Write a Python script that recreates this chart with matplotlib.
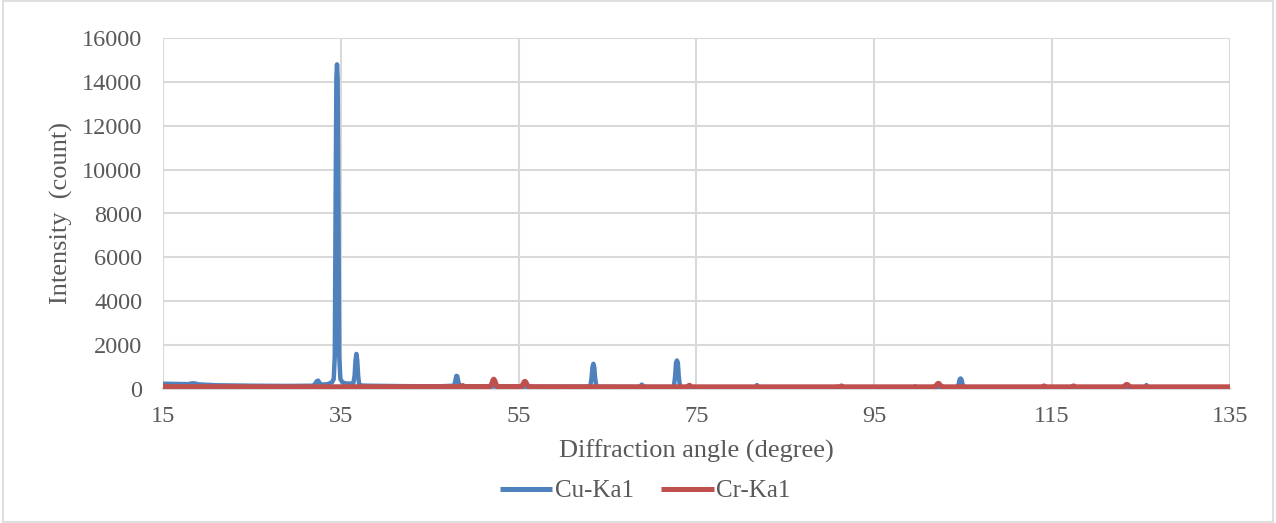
import matplotlib
matplotlib.use("Agg")
import matplotlib.pyplot as plt
from matplotlib.patches import Rectangle

# Diffraction patterns: angle (degree) and intensity (count)
cu_angle = [15.0, 16.5, 17.8, 18.3, 18.6, 19.0, 21.0, 25.0, 29.0,
            31.9, 32.15, 32.3, 32.45, 32.6, 32.8,
            33.5, 34.0, 34.2, 34.32, 34.42, 34.5, 34.57, 34.64, 34.72, 34.82, 34.95, 35.2, 35.6,
            36.4, 36.55, 36.65, 36.75, 36.85, 36.95, 37.05, 37.2,
            38.0, 42.0, 46.0, 47.75, 47.9, 48.0, 48.1, 48.2, 48.35,
            55.0, 60.0,
            63.05, 63.2, 63.3, 63.4, 63.5, 63.6, 63.75,
            68.6, 68.85, 69.1,
            72.45, 72.6, 72.7, 72.8, 72.9, 73.0, 73.15,
            78.0, 81.6, 81.8, 82.0,
            90.6, 90.8, 91.0, 99.4, 99.6, 99.8,
            104.35, 104.5, 104.6, 104.7, 104.8, 104.9, 105.05,
            115.0, 125.4, 125.6, 125.8, 135.0]
cu_count = [240, 230, 220, 260, 250, 210, 170, 150, 140,
            150, 260, 360, 380, 280, 200,
            220, 300, 450, 1500, 9000, 14200, 14800, 14200, 9000, 1500, 450, 300, 250,
            250, 600, 1300, 1600, 1300, 600, 250, 160,
            150, 130, 120, 150, 420, 600, 580, 350, 130,
            110, 100,
            110, 500, 1000, 1150, 1000, 500, 100,
            90, 200, 90,
            90, 600, 1200, 1300, 1200, 600, 80,
            50, 50, 180, 50,
            40, 110, 40, 40, 120, 40,
            50, 250, 440, 480, 440, 250, 50,
            40, 40, 180, 40, 40]

cr_angle = [15.0, 20.0, 30.0, 48.5, 48.7, 48.9,
            51.8, 51.95, 52.1, 52.2, 52.3, 52.45, 52.6,
            55.3, 55.45, 55.6, 55.7, 55.8, 55.95, 56.1,
            73.9, 74.2, 74.5, 91.0, 91.3, 91.6,
            101.8, 101.95, 102.1, 102.2, 102.3, 102.45, 102.6,
            113.8, 114.1, 114.4, 117.1, 117.4, 117.7,
            123.0, 123.15, 123.3, 123.4, 123.5, 123.65, 123.8, 135.0]
cr_count = [110, 110, 100, 110, 160, 110,
            110, 220, 400, 450, 400, 220, 110,
            110, 200, 320, 350, 320, 200, 105,
            100, 170, 100, 100, 140, 100,
            100, 160, 240, 260, 240, 160, 100,
            100, 140, 100, 100, 140, 100,
            100, 140, 200, 210, 200, 140, 100, 100]

x_ticks = [15, 35, 55, 75, 95, 115, 135]
y_ticks = [0, 2000, 4000, 6000, 8000, 10000, 12000, 14000, 16000]

blue = "#4f81bd"
red = "#c0504d"
grid = "#d9d9d9"
text = "#595959"

plt.rcParams["font.family"] = ["Liberation Serif", "DejaVu Serif"]

fig = plt.figure(figsize=(12.76, 5.23), dpi=100)
ax = fig.add_axes([163 / 1276, 1 - 389 / 523, (1230 - 163) / 1276, (389 - 38) / 523])

ax.plot(cu_angle, cu_count, color=blue, lw=3.2, label="Cu-Ka1",
        solid_joinstyle="round", solid_capstyle="butt", zorder=3)
ax.plot(cr_angle, cr_count, color=red, lw=3.6, label="Cr-Ka1",
        solid_joinstyle="round", solid_capstyle="butt", zorder=4)

ax.set_xlim(15, 135)
ax.set_ylim(0, 16000)
ax.set_xticks(x_ticks)
ax.set_yticks(y_ticks)
ax.set_xticklabels([str(v) for v in x_ticks])
ax.set_yticklabels([str(v) for v in y_ticks])
ax.tick_params(axis="x", length=0, labelsize=17.5, labelcolor=text, pad=12)
ax.tick_params(axis="y", length=0, labelsize=17.5, labelcolor=text, pad=15)
ax.grid(True, color=grid, lw=1.5, zorder=0)
ax.set_axisbelow(True)
for side in ("top", "right", "left"):
    ax.spines[side].set_visible(False)
ax.spines["bottom"].set_color(grid)
ax.spines["bottom"].set_linewidth(1.5)

fig.text(0.5 * (163 + 1230) / 1276, 1 - 451 / 523, "Diffraction angle (degree)",
         ha="center", va="center", fontsize=19, color=text)
fig.text(61 / 1276, 1 - 213 / 523, "Intensity  (count)", rotation=90,
         ha="center", va="center", fontsize=19, color=text)

leg = fig.legend(loc="center", bbox_to_anchor=(645 / 1276, 1 - 491 / 523), ncol=2, frameon=False,
                 fontsize=18, handlelength=2.1, handletextpad=0.1, columnspacing=1.1)
for t in leg.get_texts():
    t.set_color(text)
for h in leg.get_lines():
    h.set_linewidth(3.6)

fig.patches.append(Rectangle((0.002, 0.002), 0.996, 0.996, transform=fig.transFigure,
                             fill=False, edgecolor=grid, lw=1.2))

fig.savefig("out.png", dpi=100)
